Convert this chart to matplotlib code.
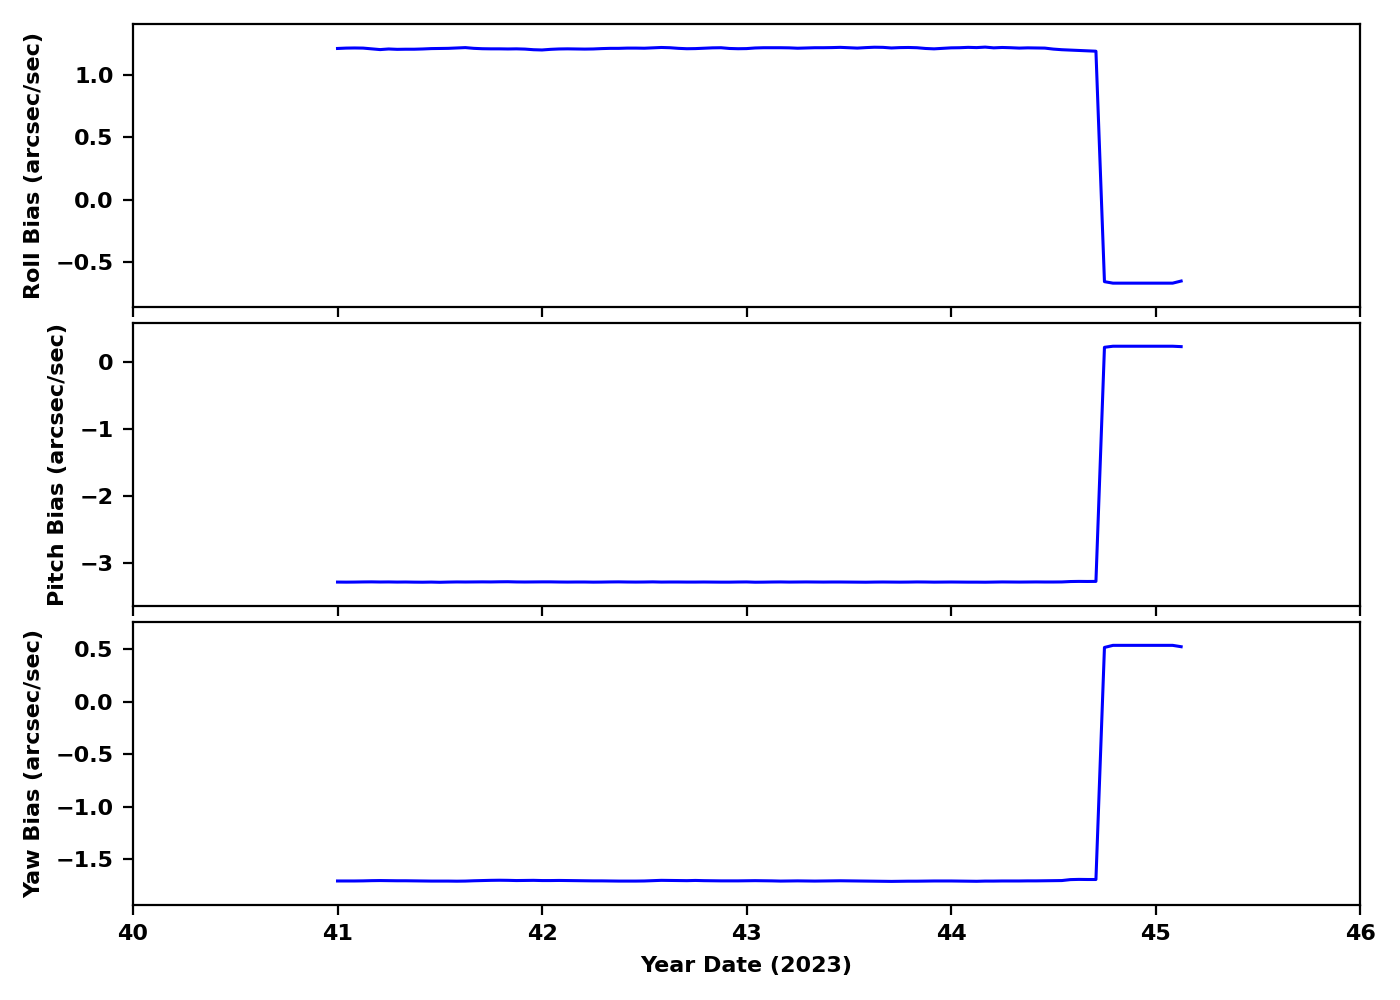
import numpy as np
import matplotlib
matplotlib.use("Agg")
import matplotlib.pyplot as plt

# hourly samples starting at day 41.0
time = np.arange(100) / 24.0 + 41.0

roll = [1.215, 1.218, 1.219, 1.218, 1.212, 1.206, 1.211, 1.208, 1.209, 1.209,
        1.211, 1.214, 1.215, 1.216, 1.219, 1.222, 1.216, 1.213, 1.212, 1.212,
        1.211, 1.212, 1.210, 1.205, 1.203, 1.208, 1.211, 1.212, 1.211, 1.210,
        1.211, 1.214, 1.216, 1.216, 1.218, 1.218, 1.217, 1.220, 1.223, 1.221,
        1.216, 1.213, 1.214, 1.217, 1.220, 1.221, 1.215, 1.213, 1.214, 1.219,
        1.221, 1.221, 1.221, 1.220, 1.217, 1.219, 1.221, 1.221, 1.222, 1.224,
        1.221, 1.218, 1.222, 1.225, 1.224, 1.219, 1.222, 1.223, 1.221, 1.215,
        1.212, 1.216, 1.220, 1.221, 1.224, 1.222, 1.226, 1.220, 1.223, 1.221,
        1.218, 1.220, 1.219, 1.218, 1.210, 1.205, 1.202, 1.199, 1.196, 1.193,
        -0.660, -0.672, -0.672, -0.672, -0.672, -0.672, -0.672, -0.672, -0.672, -0.655]

pitch = [-3.292, -3.293, -3.292, -3.290, -3.289, -3.291, -3.290, -3.292, -3.291, -3.293,
         -3.294, -3.292, -3.295, -3.292, -3.290, -3.291, -3.290, -3.289, -3.290, -3.288,
         -3.287, -3.290, -3.291, -3.290, -3.289, -3.289, -3.291, -3.292, -3.291, -3.291,
         -3.293, -3.292, -3.290, -3.289, -3.291, -3.292, -3.291, -3.289, -3.292, -3.291,
         -3.291, -3.292, -3.292, -3.291, -3.292, -3.293, -3.293, -3.291, -3.290, -3.294,
         -3.293, -3.291, -3.290, -3.292, -3.291, -3.290, -3.291, -3.292, -3.291, -3.291,
         -3.292, -3.293, -3.294, -3.292, -3.291, -3.292, -3.293, -3.292, -3.290, -3.291,
         -3.293, -3.292, -3.291, -3.292, -3.293, -3.293, -3.294, -3.292, -3.290, -3.291,
         -3.292, -3.291, -3.290, -3.291, -3.291, -3.290, -3.284, -3.282, -3.283, -3.282,
         0.222, 0.238, 0.238, 0.238, 0.238, 0.238, 0.238, 0.238, 0.238, 0.232]

yaw = [-1.708, -1.708, -1.708, -1.707, -1.705, -1.704, -1.705, -1.706, -1.706, -1.707,
       -1.708, -1.709, -1.709, -1.709, -1.710, -1.709, -1.706, -1.704, -1.702, -1.701,
       -1.702, -1.704, -1.703, -1.702, -1.704, -1.704, -1.703, -1.704, -1.705, -1.706,
       -1.707, -1.707, -1.708, -1.709, -1.709, -1.709, -1.708, -1.705, -1.702, -1.703,
       -1.704, -1.705, -1.703, -1.705, -1.706, -1.707, -1.707, -1.707, -1.706, -1.705,
       -1.706, -1.707, -1.709, -1.708, -1.707, -1.708, -1.709, -1.708, -1.707, -1.706,
       -1.707, -1.708, -1.709, -1.710, -1.711, -1.712, -1.711, -1.710, -1.710, -1.709,
       -1.708, -1.708, -1.708, -1.709, -1.710, -1.711, -1.709, -1.709, -1.708, -1.708,
       -1.708, -1.707, -1.707, -1.706, -1.705, -1.704, -1.695, -1.693, -1.694, -1.694,
       0.515, 0.535, 0.535, 0.535, 0.535, 0.535, 0.535, 0.535, 0.535, 0.522]

series = [roll, pitch, yaw]
ylabels = ["Roll Bias (arcsec/sec)", "Pitch Bias (arcsec/sec)", "Yaw Bias (arcsec/sec)"]
xticks = [40, 41, 42, 43, 44, 45, 46]
xlabel = "Year Date (2023)"

plt.rcParams['font.size'] = 8
plt.rcParams['font.weight'] = 'bold'
plt.rcParams['axes.labelweight'] = 'bold'

fig, axes = plt.subplots(3, 1, sharex=True, figsize=(7, 5), dpi=200)
fig.subplots_adjust(left=0.095, right=0.9715, top=0.9765, bottom=0.095, hspace=0.056)

for ax, vals, lab in zip(axes, series, ylabels):
    ax.plot(time, vals, color='blue', lw=1.1)
    lo, hi = min(vals), max(vals)
    r = hi - lo
    ax.set_ylim(lo - 0.1 * r, hi + 0.1 * r)
    ax.set_ylabel(lab, fontsize=8, fontweight='bold')
    for t in ax.get_yticklabels():
        t.set_fontweight('bold')

axes[-1].set_xlim(40, 46)
axes[-1].set_xticks(xticks)
axes[-1].set_xlabel(xlabel, fontsize=8, fontweight='bold')
for t in axes[-1].get_xticklabels():
    t.set_fontweight('bold')

fig.savefig("out.png", dpi=200)
